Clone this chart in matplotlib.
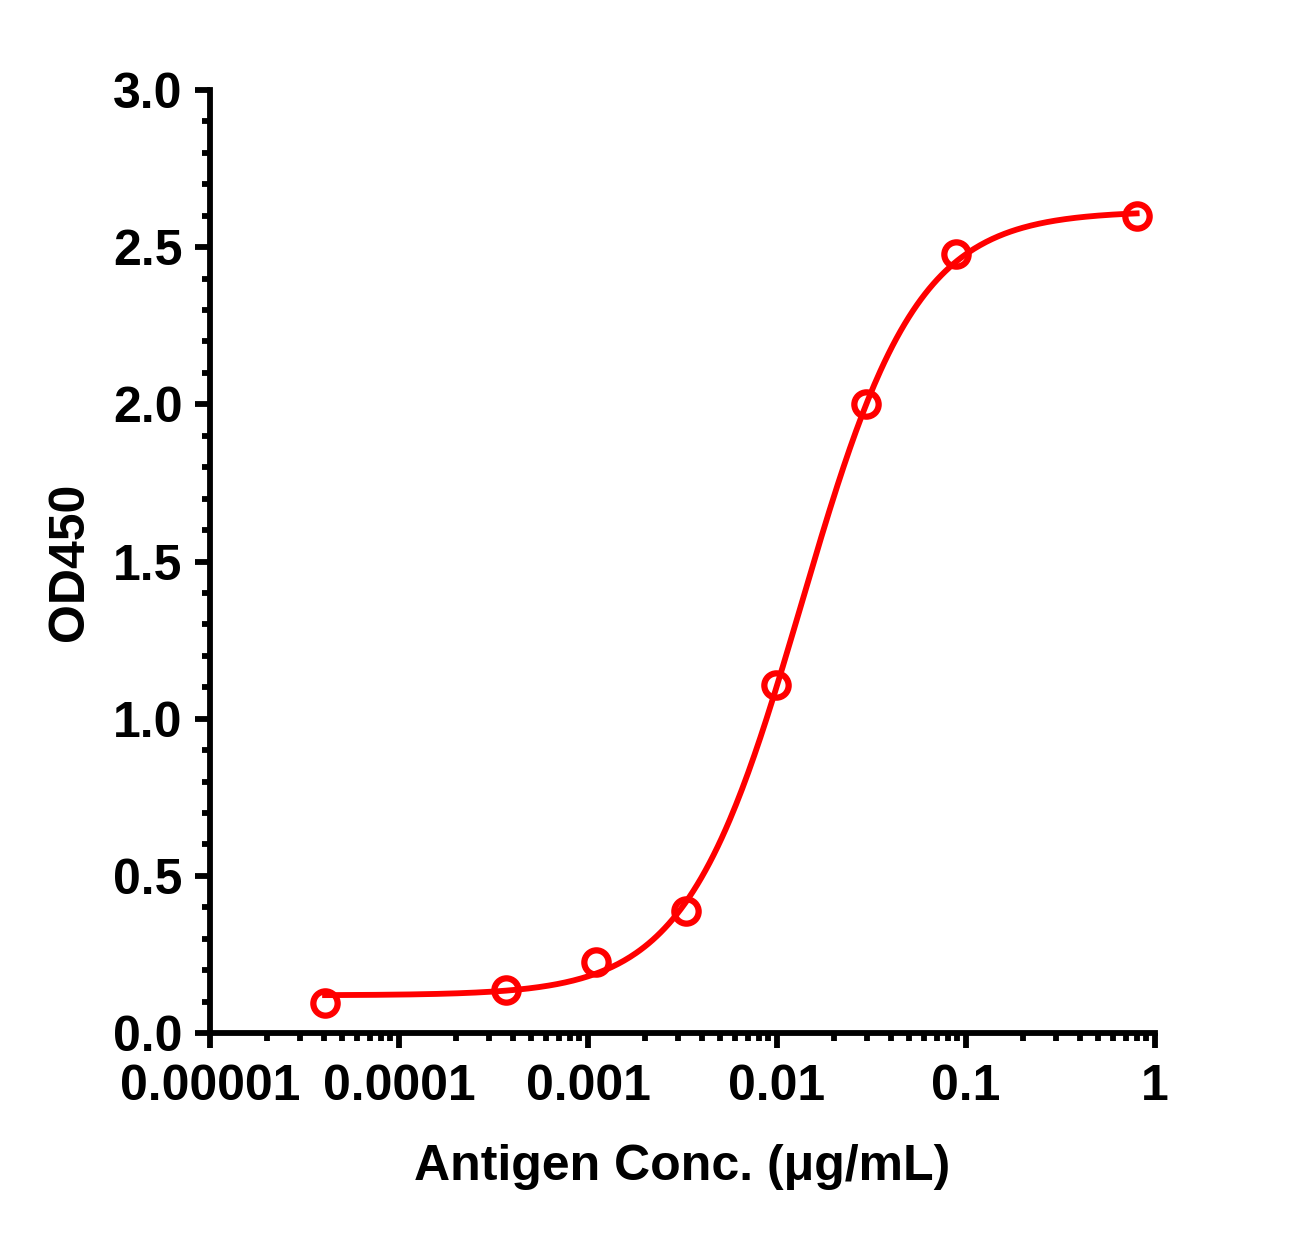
import numpy as np
import matplotlib
matplotlib.use("Agg")
import matplotlib.pyplot as plt
from matplotlib.ticker import LogLocator, FixedLocator, MultipleLocator, NullFormatter

# measured points
conc = [0.0000406, 0.000366, 0.0011, 0.00329, 0.00988, 0.0296, 0.0889, 0.8]
od450 = [0.095, 0.137, 0.226, 0.388, 1.107, 2.001, 2.478, 2.598]

# 4PL fit parameters (bottom, top, EC50, hill)
fit_bottom = 0.12
fit_top = 2.615
fit_ec50 = 0.0135
fit_hill = 1.42

x_ticks = [0.00001, 0.0001, 0.001, 0.01, 0.1, 1]
x_ticklabels = ["0.00001", "0.0001", "0.001", "0.01", "0.1", "1"]
y_ticks = [0.0, 0.5, 1.0, 1.5, 2.0, 2.5, 3.0]
y_ticklabels = ["0.0", "0.5", "1.0", "1.5", "2.0", "2.5", "3.0"]

RED = "#ff0000"

plt.rcParams["font.family"] = ["Liberation Sans", "DejaVu Sans"]
plt.rcParams["font.weight"] = "bold"

fig = plt.figure(figsize=(13.08, 12.36), dpi=100)
ax = fig.add_axes([0.1606, 0.1642, 0.7224, 0.763])

xs = np.logspace(np.log10(conc[0]), np.log10(conc[-1]), 400)
ys = fit_bottom + (fit_top - fit_bottom) / (1 + (fit_ec50 / xs) ** fit_hill)
ax.plot(xs, ys, color=RED, lw=4.2, zorder=3, clip_on=False)
ax.plot(conc, od450, "o", ms=17.5, mfc="none", mec=RED, mew=4.5, zorder=4, clip_on=False)

ax.set_xscale("log")
ax.set_xlim(0.00001, 1)
ax.set_ylim(0, 3.0)

ax.xaxis.set_major_locator(FixedLocator(x_ticks))
ax.set_xticklabels(x_ticklabels)
ax.xaxis.set_minor_locator(LogLocator(base=10, subs=np.arange(2, 10)))
ax.xaxis.set_minor_formatter(NullFormatter())

ax.set_yticks(y_ticks)
ax.set_yticklabels(y_ticklabels)
ax.yaxis.set_minor_locator(MultipleLocator(0.1))

for side in ["top", "right"]:
    ax.spines[side].set_visible(False)
for side in ["left", "bottom"]:
    ax.spines[side].set_linewidth(4.2)

ax.tick_params(which="major", length=11, width=4.2, labelsize=36, pad=9)
ax.tick_params(axis="x", which="major", pad=11)
ax.tick_params(which="minor", length=5.5, width=4.2)
for lab in ax.get_xticklabels() + ax.get_yticklabels():
    lab.set_fontweight("bold")

ax.set_xlabel("Antigen Conc. (μg/mL)", fontsize=36, fontweight="bold", labelpad=25)
ax.set_ylabel("OD450", fontsize=36, fontweight="bold", labelpad=14)

fig.savefig("out.png", dpi=100)
